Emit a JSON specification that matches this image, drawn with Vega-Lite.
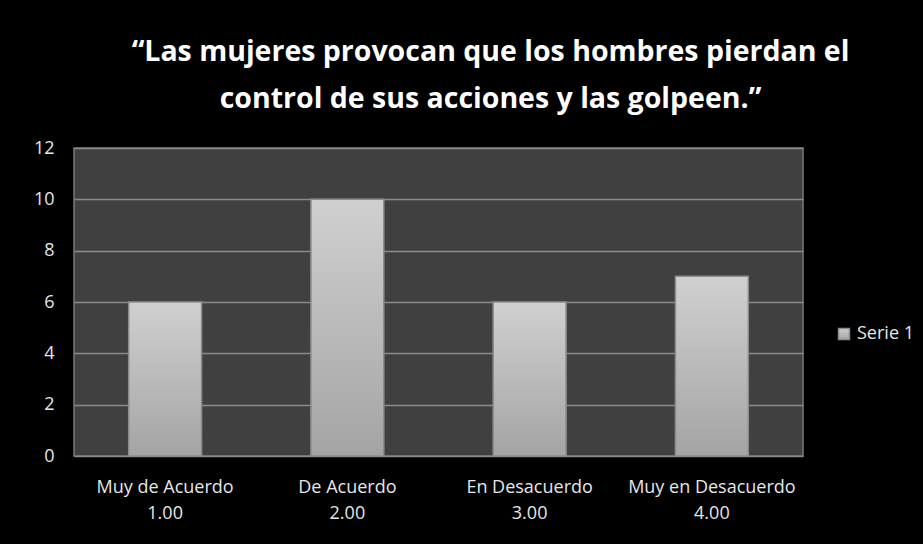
{
  "$schema": "https://vega.github.io/schema/vega-lite/v6.json",
  "width": 729,
  "height": 308,
  "autosize": {"type": "none"},
  "padding": {"left": 74, "top": 148, "right": 120, "bottom": 88},
  "background": "#000000",
  "title": {
    "text": ["“Las mujeres provocan que los hombres pierdan el", "control de sus acciones y  las golpeen.”"],
    "font": "Open Sans",
    "fontSize": 28.5,
    "fontWeight": "bold",
    "color": "#ffffff",
    "anchor": "middle",
    "frame": "group",
    "dx": 52,
    "lineHeight": 47,
    "offset": 26
  },
  "data": {
    "values": [
      {"respuesta": "Muy de Acuerdo", "valor": 6, "serie": "Serie 1"},
      {"respuesta": "De Acuerdo", "valor": 10, "serie": "Serie 1"},
      {"respuesta": "En Desacuerdo", "valor": 6, "serie": "Serie 1"},
      {"respuesta": "Muy en Desacuerdo", "valor": 7, "serie": "Serie 1"}
    ]
  },
  "mark": {
    "type": "bar",
    "fill": {"gradient": "linear", "x1": 0, "y1": 0, "x2": 0, "y2": 1, "stops": [{"offset": 0, "color": "#d0d0d0"}, {"offset": 1, "color": "#a4a4a4"}]},
    "strokeWidth": 1.5
  },
  "encoding": {
    "x": {
      "field": "respuesta",
      "type": "nominal",
      "sort": null,
      "scale": {"paddingInner": 0.6, "paddingOuter": 0.3},
      "axis": {
        "title": null,
        "labelAngle": 0,
        "labelExpr": "[datum.label, format(indexof(['Muy de Acuerdo','De Acuerdo','En Desacuerdo','Muy en Desacuerdo'], datum.label) + 1, '.2f')]",
        "labelFont": "Open Sans",
        "labelFontSize": 18,
        "labelColor": "#e6e6e6",
        "labelLineHeight": 26,
        "labelPadding": 22,
        "ticks": false,
        "domain": false
      }
    },
    "y": {
      "field": "valor",
      "type": "quantitative",
      "scale": {"domain": [0, 12]},
      "axis": {
        "title": null,
        "values": [0, 2, 4, 6, 8, 10, 12],
        "labelFont": "Open Sans",
        "labelFontSize": 18,
        "labelColor": "#e6e6e6",
        "labelPadding": 20,
        "ticks": false,
        "domain": false,
        "gridColor": "#8a8a8a",
        "gridWidth": 1.5
      }
    },
    "stroke": {
      "field": "serie",
      "type": "nominal",
      "scale": {"range": ["#8c8c8c"]},
      "legend": {
        "title": null,
        "orient": "none",
        "legendX": 761,
        "legendY": 177,
        "symbolType": "square",
        "symbolSize": 120,
        "symbolFillColor": "#c4c4c4",
        "symbolStrokeColor": "#8c8c8c",
        "labelFont": "Open Sans",
        "labelFontSize": 18,
        "labelColor": "#e6e6e6"
      }
    }
  },
  "config": {
    "view": {"fill": "#404040", "stroke": "#7a7a7a", "strokeWidth": 1.5}
  }
}
